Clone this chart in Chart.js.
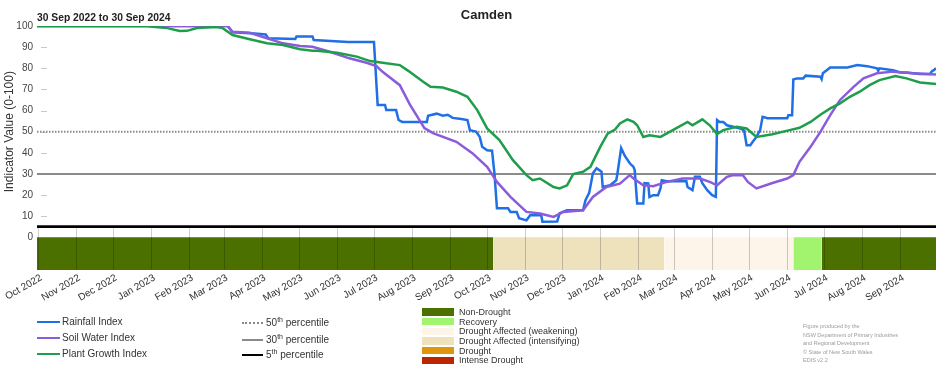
<!DOCTYPE html>
<html>
<head>
<meta charset="utf-8">
<script src="https://cdn.jsdelivr.net/npm/chart.js@4.4.0/dist/chart.umd.min.js"></script>
<style>
  body { margin: 0; background: #fff; font-family: "Liberation Sans", Arial, sans-serif; }
  #wrap { position: relative; width: 952px; height: 370px; overflow: hidden; }
  #c { position: absolute; left: 0; top: 0; }
  .t { position: absolute; white-space: nowrap; color: #222; }
  .lg { position: absolute; height: 12px; line-height: 12px; font-size: 10px; color: #333; white-space: nowrap; }
  .lg i { position: absolute; left: 0; top: 5px; height: 0; }
  .lg span { position: absolute; top: 0; }
  .lg sup { font-size: 7px; position: relative; top: -1px; vertical-align: top; line-height: 8px; }
  .db { position: absolute; left: 422px; width: 32px; height: 7.5px; }
  .dt { position: absolute; left: 459px; font-size: 9px; line-height: 10px; color: #333; white-space: nowrap; }
  .cr { position: absolute; left: 803px; font-size: 5.5px; line-height: 8.5px; color: #9a9a9a; white-space: nowrap; }
</style>
</head>
<body>
<div id="wrap">
  <canvas id="c" width="952" height="370"></canvas>
  <div class="t" style="left:0;width:973px;text-align:center;top:7px;font-size:13px;font-weight:bold;">Camden</div>
  <div class="t" style="left:37px;top:12px;font-size:10.3px;font-weight:bold;">30 Sep 2022 to 30 Sep 2024</div>

  <div class="lg" style="left:37px;top:316px;"><i style="width:23px;border-top:2.5px solid #1f6fe5;"></i><span style="left:25px;">Rainfall Index</span></div>
  <div class="lg" style="left:37px;top:332px;"><i style="width:23px;border-top:2.5px solid #8a5cdb;"></i><span style="left:25px;">Soil Water Index</span></div>
  <div class="lg" style="left:37px;top:348px;"><i style="width:23px;border-top:2.5px solid #1e9e4a;"></i><span style="left:25px;">Plant Growth Index</span></div>

  <div class="lg" style="left:242px;top:317px;"><i style="width:21px;border-top:2px dotted #888;"></i><span style="left:24px;">50<sup>th</sup> percentile</span></div>
  <div class="lg" style="left:242px;top:334px;"><i style="width:21px;border-top:2.5px solid #8a8a8a;"></i><span style="left:24px;">30<sup>th</sup> percentile</span></div>
  <div class="lg" style="left:242px;top:349px;"><i style="width:21px;border-top:2.5px solid #000;"></i><span style="left:24px;">5<sup>th</sup> percentile</span></div>

  <div id="droughtLegend"></div>

  <div class="cr" style="top:322px;">Figure produced by the</div>
  <div class="cr" style="top:330.5px;">NSW Department of Primary Industries</div>
  <div class="cr" style="top:339px;">and Regional Development</div>
  <div class="cr" style="top:347.5px;">© State of New South Wales</div>
  <div class="cr" style="top:356px;">EDIS v2.2</div>
</div>

<script>
// --- data (x = days after 30 Sep 2022) ---
const monthLabels = ["Oct 2022", "Nov 2022", "Dec 2022", "Jan 2023", "Feb 2023", "Mar 2023",
  "Apr 2023", "May 2023", "Jun 2023", "Jul 2023", "Aug 2023", "Sep 2023",
  "Oct 2023", "Nov 2023", "Dec 2023", "Jan 2024", "Feb 2024", "Mar 2024",
  "Apr 2024", "May 2024", "Jun 2024", "Jul 2024", "Aug 2024", "Sep 2024"];
const yTickValues = [0, 10, 20, 30, 40, 50, 60, 70, 80, 90, 100];

const rainDays = [0, 155, 159, 177, 186, 188, 210, 211, 224, 225, 253, 274, 277, 283, 284, 292, 294, 297,
  317, 318, 325, 330, 334, 338, 345, 350, 352, 357, 360, 362, 366, 370, 372, 374, 383, 385, 390, 392, 398,
  401, 410, 411, 423, 425, 431, 444, 446, 449, 452, 455, 459, 460, 466, 471, 472, 475, 478, 482, 485, 486,
  488, 493, 494, 497, 498, 501, 505, 507, 508, 512, 528, 529, 533, 535, 539, 541, 545, 549, 552, 553, 555,
  558, 561, 566, 572, 575, 577, 580, 582, 585, 588, 590, 594, 610, 611, 614, 615, 618, 623, 625, 637, 638,
  639, 645, 659, 667, 675, 683, 684, 685, 696, 702, 707, 718, 726, 728, 729, 731];
const rainValues = [100, 100, 97, 96.5, 96, 94.2, 93.8, 95, 95, 93.4, 92.4, 92.4, 62.6, 62.6, 60.2, 60.2, 55.5, 54.6,
  54.6, 57.5, 58.5, 57.5, 58, 56.5, 56, 55.5, 50.7, 50, 47.5, 42.8, 41.2, 41, 30, 13.7, 13.7, 12, 12, 9, 8,
  10.4, 10.4, 7.3, 7.5, 11.4, 12.8, 12.8, 17.5, 21, 30.3, 32.7, 31, 23.8, 24.6, 27, 30.3, 42.2, 38.5, 35, 33.3, 31.8,
  16, 16, 25.6, 25.5, 19, 19.9, 19.9, 23.2, 27, 26.5, 26.5, 23.8, 22.3, 28.6, 28.6, 25.6, 22.3, 19.9, 19.1, 55.5, 54.6,
  54.6, 53, 52.3, 51.5, 50.5, 43.6, 43.6, 45.2, 47.5, 50.7, 57, 56.3, 56.3, 57.8, 57.8, 74.7, 75.2, 75.2, 76.5, 76, 74.9,
  77.6, 80.4, 80.4, 81.5, 81, 80, 78.8, 80, 79.1, 78, 78, 77.3, 77.3, 78.8, 79, 80];

const soilDays = [0, 155, 159, 173, 187, 200, 214, 224, 238, 254, 268, 276, 281, 295, 303, 315, 322, 341, 354,
  366, 374, 385, 398, 409, 420, 428, 444, 452, 463, 474, 482, 485, 493, 501, 512, 525, 539, 547, 553, 561, 566,
  574, 578, 585, 598, 610, 615, 620, 629, 637, 645, 653, 664, 672, 683, 696, 712, 731];
const soilValues = [100, 100, 97.3, 96.8, 94.2, 91.8, 90.5, 90.2, 87.8, 84.7, 82.6, 81, 78.3, 72, 63, 51.7, 49.3, 45.2, 39.8,
  33.3, 26.2, 19.1, 12, 11.2, 9.6, 12, 12.8, 19.1, 23.8, 25.4, 29.4, 27.8, 24.6, 24.2, 26.2, 27.8, 27.8, 26.2, 24.6, 28.6, 29.4,
  29.4, 26.2, 23.1, 25.7, 27.8, 29.4, 35.7, 42.8, 49.9, 57.8, 65, 71.2, 75.2, 77.6, 78.4, 77.6, 77.1];

const plantDays = [0, 90, 94, 106, 116, 122, 130, 146, 151, 159, 173, 187, 200, 214, 224, 228, 244, 260, 271, 281,
  295, 301, 303, 314, 320, 330, 341, 350, 358, 366, 376, 387, 398, 403, 409, 420, 425, 431, 436, 444, 450, 458,
  464, 470, 474, 480, 485, 488, 493, 498, 507, 517, 529, 533, 541, 547, 553, 558, 569, 577, 585, 598, 612, 620,
  629, 637, 645, 653, 661, 669, 677, 685, 698, 707, 718, 731];
const plantValues = [100, 100, 99.7, 99, 97.6, 97.7, 99, 99.5, 99, 95.7, 93.7, 91.8, 91, 89, 88.3, 88.3, 87.3, 85.5, 83.4, 82.6,
  81.5, 79.1, 78.3, 73.6, 71.2, 70.9, 68.9, 66.5, 60.2, 51.5, 46, 36.5, 29.4, 27, 27.8, 23.8, 23.1, 24.6, 29.9, 31, 33.3, 42.8,
  49, 51, 53.9, 55.8, 54.6, 53, 47.5, 48.3, 47.5, 50.7, 54.6, 53, 55.8, 53, 48.8, 50.7, 52.3, 51.5, 47.5, 48.8, 50.7, 51.8,
  54.6, 58, 61, 63.4, 66.5, 68.9, 72, 74.4, 76.3, 75.2, 73.3, 72.5];

const percentileValues = [50, 30, 5];

const droughtStart = [0, 371, 510, 615, 638];
const droughtEnd = [371, 510, 615, 638, 731];
const droughtClass = ["Non-Drought", "Drought Affected (intensifying)", "Drought Affected (weakening)", "Recovery", "Non-Drought"];

const droughtLegend = ["Non-Drought", "Recovery", "Drought Affected (weakening)",
  "Drought Affected (intensifying)", "Drought", "Intense Drought"];
const droughtColors = {
  "Non-Drought": "#4b7000",
  "Recovery": "#a2f36e",
  "Drought Affected (weakening)": "#fdf5ea",
  "Drought Affected (intensifying)": "#eee2bd",
  "Drought": "#e1950f",
  "Intense Drought": "#bb2500"
};

// --- drought legend ---
const dl = document.getElementById("droughtLegend");
droughtLegend.forEach((name, i) => {
  const top = 308.3 + i * 9.65;
  dl.insertAdjacentHTML("beforeend",
    `<div class="db" style="top:${top}px;background:${droughtColors[name]}"></div>` +
    `<div class="dt" style="top:${top - 1.3}px">${name}</div>`);
});

// --- month tick positions ---
const start = Date.UTC(2022, 8, 30);
const monthDays = monthLabels.map((_, i) => Math.round((Date.UTC(2022, 9 + i, 1) - start) / 86400000));
const BAR_BOTTOM = -15.5;
const FONT = "'Liberation Sans', Arial, sans-serif";

const toPoints = (xs, ys) => xs.map((x, i) => ({ x: x, y: ys[i] }));

const datasets = [];

datasets.push({
  label: "Plant Growth Index", data: toPoints(plantDays, plantValues),
  borderColor: "#1e9e4a", borderWidth: 2.5, pointRadius: 0, tension: 0, fill: false, order: 1
});
datasets.push({
  label: "Soil Water Index", data: toPoints(soilDays, soilValues),
  borderColor: "#8a5cdb", borderWidth: 2.5, pointRadius: 0, tension: 0, fill: false, order: 2
});
datasets.push({
  label: "Rainfall Index", data: toPoints(rainDays, rainValues),
  borderColor: "#1f6fe5", borderWidth: 2.5, pointRadius: 0, tension: 0, fill: false, order: 3
});

const pctStyle = [
  { color: "#8a8a8a", width: 2, dash: [1.5, 1.5] },
  { color: "#8a8a8a", width: 2, dash: [] },
  { color: "#000000", width: 2.7, dash: [] }
];
percentileValues.forEach((v, i) => {
  datasets.push({
    label: v + "th percentile", data: [{ x: 0, y: v }, { x: 731, y: v }],
    borderColor: pctStyle[i].color, borderWidth: pctStyle[i].width, borderDash: pctStyle[i].dash,
    pointRadius: 0, fill: false, order: 5
  });
});

droughtStart.forEach((s, i) => {
  datasets.push({
    label: droughtClass[i], data: [{ x: s, y: 0 }, { x: droughtEnd[i], y: 0 }],
    borderWidth: 0, pointRadius: 0, backgroundColor: droughtColors[droughtClass[i]],
    fill: { value: BAR_BOTTOM }, order: 10
  });
});

// --- extra axis decoration: month ticks in the bar, y ticks, y title ---
const decor = {
  id: "decor",
  beforeDatasetsDraw(chart) {
    const { ctx, chartArea, scales: { y } } = chart;
    ctx.save();
    ctx.strokeStyle = "#c8c8c8";
    ctx.lineWidth = 1;
    yTickValues.forEach(v => {
      if (v <= 0 || v >= 100) return;
      const py = Math.round(y.getPixelForValue(v)) + 0.5;
      ctx.beginPath();
      ctx.moveTo(chartArea.left + 4, py);
      ctx.lineTo(chartArea.left + 10, py);
      ctx.stroke();
    });
    ctx.restore();
  },
  afterDatasetsDraw(chart) {
    const { ctx, chartArea, scales: { x, y } } = chart;
    ctx.save();
    ctx.strokeStyle = "rgba(0,0,0,0.2)";
    ctx.lineWidth = 1;
    const top = y.getPixelForValue(5) + 1.5;
    monthDays.forEach(d => {
      const px = Math.round(x.getPixelForValue(d)) + 0.5;
      ctx.beginPath();
      ctx.moveTo(px, top);
      ctx.lineTo(px, chartArea.bottom);
      ctx.stroke();
    });
    ctx.fillStyle = "#333";
    ctx.font = "12px " + FONT;
    ctx.textAlign = "center";
    ctx.textBaseline = "middle";
    ctx.translate(10, (y.getPixelForValue(0) + y.getPixelForValue(100)) / 2);
    ctx.rotate(-Math.PI / 2);
    ctx.fillText("Indicator Value (0-100)", 0, 0);
    ctx.restore();
  }
};

new Chart(document.getElementById("c").getContext("2d"), {
  type: "line",
  data: { datasets: datasets },
  plugins: [decor],
  options: {
    responsive: false,
    animation: false,
    layout: { padding: { top: 26, right: 16, bottom: 0, left: 0 } },
    plugins: { legend: { display: false }, tooltip: { enabled: false }, title: { display: false } },
    scales: {
      x: {
        type: "linear", min: 0, max: 731,
        afterBuildTicks: s => { s.ticks = monthDays.map(v => ({ value: v })); },
        afterFit: s => { s.height = 100; s.paddingLeft = 0; s.paddingRight = 0; },
        ticks: {
          autoSkip: false, minRotation: 30, maxRotation: 30, padding: 2, labelOffset: 3,
          color: "#333", font: { size: 10, family: FONT },
          callback: (v, i) => monthLabels[i]
        },
        grid: { display: false, drawTicks: false },
        border: { display: false }
      },
      y: {
        min: BAR_BOTTOM, max: 100,
        afterBuildTicks: s => { s.ticks = yTickValues.map(v => ({ value: v })); },
        afterFit: s => { s.width = 37; },
        ticks: { padding: 4, color: "#444", font: { size: 10, family: FONT } },
        grid: { display: false, drawTicks: false },
        border: { display: false }
      }
    }
  }
});
</script>
</body>
</html>
